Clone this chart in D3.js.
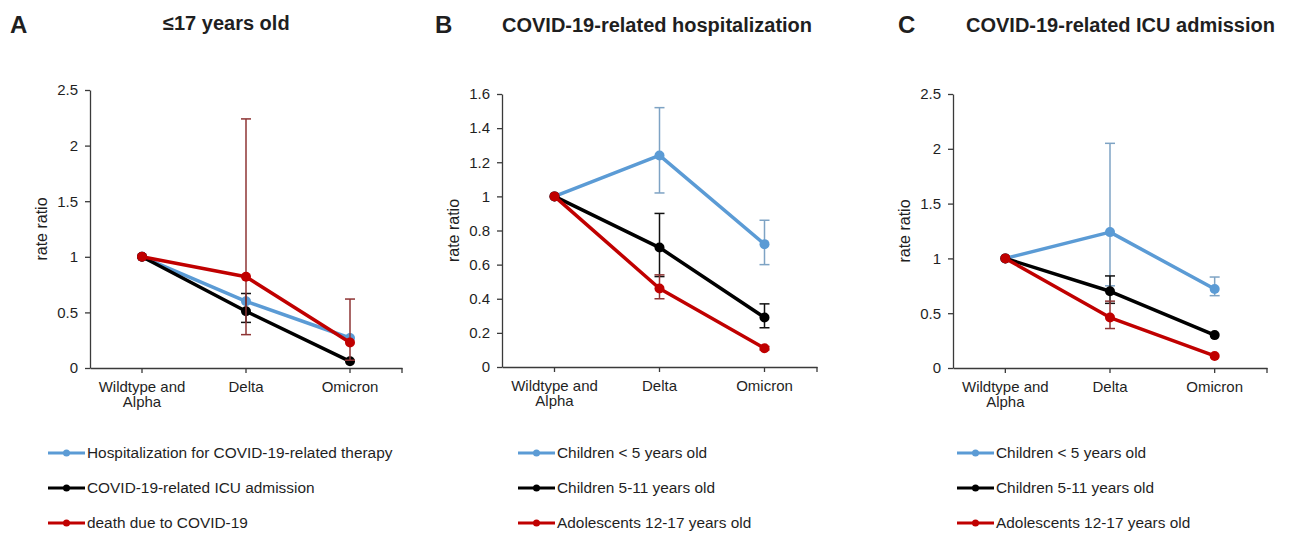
<!DOCTYPE html>
<html>
<head>
<meta charset="utf-8">
<script src="https://cdn.jsdelivr.net/npm/d3@7"></script>
<style>
  body { margin: 0; background: #fff; }
  svg text { font-family: "Liberation Sans", Arial, sans-serif; fill: #1f1f1f; }
  .axis path, .axis line { stroke: #3a3a3a; stroke-width: 1.3; }
  .axis text { font-size: 15px; fill: #1f1f1f; }
</style>
</head>
<body>
<svg id="chart" width="1291" height="533"></svg>
<script>
// categories on the x axis
var categories = ["Wildtype and Alpha", "Delta", "Omicron"];
var categoryLines = [["Wildtype and", "Alpha"], ["Delta"], ["Omicron"]];

// panel A: <=17 years old
var hospTherapyA = [1, 0.60, 0.27];
var hospTherapyALow = [null, null, null];
var hospTherapyAHigh = [null, null, null];
var icuA = [1, 0.51, 0.06];
var icuALow = [null, 0.41, null];
var icuAHigh = [null, 0.67, null];
var deathA = [1, 0.82, 0.23];
var deathALow = [null, 0.30, 0.07];
var deathAHigh = [null, 2.24, 0.62];
var yTicksA = [0, 0.5, 1, 1.5, 2, 2.5];

// panel B: COVID-19-related hospitalization
var under5B = [1, 1.24, 0.72];
var under5BLow = [null, 1.02, 0.60];
var under5BHigh = [null, 1.52, 0.86];
var age5to11B = [1, 0.70, 0.29];
var age5to11BLow = [null, 0.53, 0.23];
var age5to11BHigh = [null, 0.90, 0.37];
var adolB = [1, 0.46, 0.11];
var adolBLow = [null, 0.40, 0.10];
var adolBHigh = [null, 0.54, 0.12];
var yTicksB = [0, 0.2, 0.4, 0.6, 0.8, 1, 1.2, 1.4, 1.6];

// panel C: COVID-19-related ICU admission
var under5C = [1, 1.24, 0.72];
var under5CLow = [null, 0.75, 0.66];
var under5CHigh = [null, 2.05, 0.83];
var age5to11C = [1, 0.70, 0.30];
var age5to11CLow = [null, 0.59, null];
var age5to11CHigh = [null, 0.84, null];
var adolC = [1, 0.46, 0.11];
var adolCLow = [null, 0.36, null];
var adolCHigh = [null, 0.61, null];
var yTicksC = [0, 0.5, 1, 1.5, 2, 2.5];

var BLUE = "#5b9bd5", BLACK = "#000000", RED = "#c00000";
var BLUE_ERR = "#7ea3c4", BLACK_ERR = "#111111", RED_ERR = "#8e3434";

var panels = [
  {
    letter: "A", letterX: 10, title: "\u226417 years old", titleX: 163, titleY: 29.5,
    left: 90, right: 402, top: 90, bottom: 368, yMax: 2.5, yTicks: yTicksA, legX: 48,
    series: [
      { name: "Hospitalization for COVID-19-related therapy", values: hospTherapyA, low: hospTherapyALow, high: hospTherapyAHigh, color: BLUE, err: BLUE_ERR },
      { name: "COVID-19-related ICU admission", values: icuA, low: icuALow, high: icuAHigh, color: BLACK, err: BLACK_ERR },
      { name: "death due to COVID-19", values: deathA, low: deathALow, high: deathAHigh, color: RED, err: RED_ERR }
    ]
  },
  {
    letter: "B", letterX: 435, title: "COVID-19-related hospitalization", titleX: 502, titleY: 31.5,
    left: 502, right: 817, top: 94, bottom: 367, yMax: 1.6, yTicks: yTicksB, legX: 518,
    series: [
      { name: "Children < 5 years old", values: under5B, low: under5BLow, high: under5BHigh, color: BLUE, err: BLUE_ERR },
      { name: "Children 5-11 years old", values: age5to11B, low: age5to11BLow, high: age5to11BHigh, color: BLACK, err: BLACK_ERR },
      { name: "Adolescents 12-17 years old", values: adolB, low: adolBLow, high: adolBHigh, color: RED, err: RED_ERR }
    ]
  },
  {
    letter: "C", letterX: 898, title: "COVID-19-related ICU admission", titleX: 966, titleY: 32,
    left: 953, right: 1267, top: 94, bottom: 368, yMax: 2.5, yTicks: yTicksC, legX: 957,
    series: [
      { name: "Children < 5 years old", values: under5C, low: under5CLow, high: under5CHigh, color: BLUE, err: BLUE_ERR },
      { name: "Children 5-11 years old", values: age5to11C, low: age5to11CLow, high: age5to11CHigh, color: BLACK, err: BLACK_ERR },
      { name: "Adolescents 12-17 years old", values: adolC, low: adolCLow, high: adolCHigh, color: RED, err: RED_ERR }
    ]
  }
];

var svg = d3.select("#chart");
svg.append("rect").attr("width", 1291).attr("height", 533).attr("fill", "#fff");

var drawPanel = function(p) {
  var x = d3.scaleBand().domain(categories).range([p.left, p.right]);
  var y = d3.scaleLinear().domain([0, p.yMax]).range([p.bottom, p.top]);
  var cx = function(i) { return x(categories[i]) + x.bandwidth() / 2; };

  var g = svg.append("g");

  // panel letter + title
  g.append("text")
    .attr("x", p.letterX).attr("y", 33)
    .attr("font-size", 24).attr("font-weight", "bold")
    .text(p.letter);
  g.append("text")
    .attr("x", p.titleX).attr("y", p.titleY)
    .attr("font-size", 20).attr("font-weight", "bold")
    .text(p.title);

  // y axis
  g.append("g")
    .attr("class", "axis")
    .attr("transform", "translate(" + p.left + ",0)")
    .call(d3.axisLeft(y).tickValues(p.yTicks).tickSize(5).tickSizeOuter(0).tickPadding(7).tickFormat(d3.format("~g")));

  // y axis title
  g.append("text")
    .attr("transform", "translate(" + (p.left - 43) + "," + ((p.top + p.bottom) / 2) + ") rotate(-90)")
    .attr("text-anchor", "middle")
    .attr("font-size", 16)
    .text("rate ratio");

  // x axis (ticks at category centres)
  var xg = g.append("g")
    .attr("class", "axis")
    .attr("transform", "translate(0," + p.bottom + ")")
    .call(d3.axisBottom(x).tickSize(5).tickSizeOuter(0).tickFormat(""));
  xg.append("line")
    .attr("x1", p.right).attr("x2", p.right)
    .attr("y1", 0).attr("y2", 5);

  categoryLines.forEach(function(lines, i) {
    var t = g.append("text")
      .attr("text-anchor", "middle")
      .attr("font-size", 15)
      .attr("y", p.bottom + 24);
    lines.forEach(function(l, k) {
      t.append("tspan").attr("x", cx(i)).attr("dy", k === 0 ? 0 : 15).text(l);
    });
  });

  // series: error bars, line, markers
  var line = d3.line()
    .x(function(d, i) { return cx(i); })
    .y(function(d) { return y(d); });

  p.series.forEach(function(s) {
    s.values.forEach(function(v, i) {
      if (s.low[i] == null || s.high[i] == null) return;
      var eg = g.append("g").attr("stroke", s.err).attr("stroke-width", 1.5);
      eg.append("line").attr("x1", cx(i)).attr("x2", cx(i)).attr("y1", y(s.low[i])).attr("y2", y(s.high[i]));
      eg.append("line").attr("x1", cx(i) - 5).attr("x2", cx(i) + 5).attr("y1", y(s.low[i])).attr("y2", y(s.low[i]));
      eg.append("line").attr("x1", cx(i) - 5).attr("x2", cx(i) + 5).attr("y1", y(s.high[i])).attr("y2", y(s.high[i]));
    });

    g.append("path")
      .datum(s.values)
      .attr("d", line)
      .attr("fill", "none")
      .attr("stroke", s.color)
      .attr("stroke-width", 3.5)
      .attr("stroke-linejoin", "round");

    g.selectAll(null)
      .data(s.values)
      .enter()
      .append("circle")
      .attr("cx", function(d, i) { return cx(i); })
      .attr("cy", function(d) { return y(d); })
      .attr("r", 5)
      .attr("fill", s.color);
  });

  // legend
  p.series.forEach(function(s, k) {
    var ly = 453 + k * 35;
    g.append("line")
      .attr("x1", p.legX).attr("x2", p.legX + 37)
      .attr("y1", ly).attr("y2", ly)
      .attr("stroke", s.color).attr("stroke-width", 3);
    g.append("circle")
      .attr("cx", p.legX + 18.5).attr("cy", ly)
      .attr("r", 3.5).attr("fill", s.color);
    g.append("text")
      .attr("x", p.legX + 39).attr("y", ly + 5)
      .attr("font-size", 15.4)
      .text(s.name);
  });
};

panels.forEach(drawPanel);
</script>
</body>
</html>
